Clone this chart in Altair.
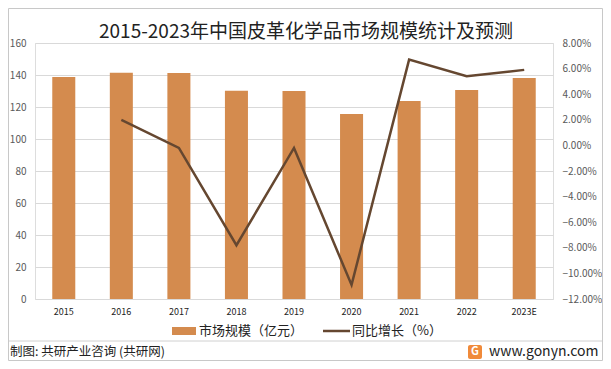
import altair as alt
import pandas as pd

years = ["2015", "2016", "2017", "2018", "2019", "2020", "2021", "2022", "2023E"]
market_size = [138.8, 141.4, 141.2, 130.1, 130.0, 115.6, 123.8, 130.6, 138.1]
growth_pct = [None, 2.0, -0.2, -7.8, -0.2, -10.9, 6.7, 5.4, 5.9]

title_text = "2015-2023年中国皮革化学品市场规模统计及预测"
legend_bar = "市场规模（亿元）"
legend_line = "同比增长（%）"
footer_left = "制图: 共研产业咨询 (共研网)"
footer_right = "www.gonyn.com"

BAR_COLOR = "#D48B4E"
LINE_COLOR = "#654730"
FONT = "Noto Sans CJK SC"

df = pd.DataFrame({"year": years, "size": market_size, "growth": growth_pct})

W, H = 518, 256
PL, PT = 27, 35
OX, OY = 8 + PL, 8 + PT  # page position of plot origin

xenc = alt.X("year:N", sort=years, title=None,
             scale=alt.Scale(paddingInner=0.6, paddingOuter=0.3),
             axis=alt.Axis(labelAngle=0, labelFontSize=9, labelColor="#222222",
                           ticks=False, domain=False, labelPadding=8, labelFont=FONT))

bars = alt.Chart(df).mark_bar(color=BAR_COLOR).encode(
    x=xenc,
    y=alt.Y("size:Q", title=None, scale=alt.Scale(domain=[0, 160], nice=False),
            axis=alt.Axis(values=list(range(0, 161, 20)), orient="left", domain=False, ticks=False,
                          labelFontSize=10, labelColor="#595959", gridColor="#d9d9d9",
                          labelPadding=9, labelFont=FONT)),
)

line = alt.Chart(df).mark_line(color=LINE_COLOR, strokeWidth=2.5).encode(
    x=alt.X("year:N", sort=years),
    y=alt.Y("growth:Q", title=None, scale=alt.Scale(domain=[-12, 8], nice=False),
            axis=alt.Axis(values=list(range(-12, 9, 2)), orient="right", domain=False, ticks=False,
                          grid=False, labelFontSize=10, labelColor="#595959", labelPadding=9,
                          labelExpr="format(datum.value/100, '.2%')", labelFont=FONT)),
)

one = pd.DataFrame({"k": [0]})
base = alt.Chart(one)

title = base.mark_text(align="center", baseline="middle", fontSize=19, font=FONT, color="#222222").encode(
    x=alt.value(306 - OX), y=alt.value(32 - OY), text=alt.value(title_text))

leg_rect = base.mark_rect(color=BAR_COLOR).encode(
    x=alt.value(172 - OX), x2=alt.value(196 - OX), y=alt.value(327 - OY), y2=alt.value(335 - OY))
leg_rect_t = base.mark_text(align="left", baseline="middle", fontSize=13, font=FONT, color="#222222").encode(
    x=alt.value(199 - OX), y=alt.value(331 - OY), text=alt.value(legend_bar))
leg_line = base.mark_rule(color=LINE_COLOR, strokeWidth=2.5).encode(
    x=alt.value(323 - OX), x2=alt.value(350 - OX), y=alt.value(331 - OY))
leg_line_t = base.mark_text(align="left", baseline="middle", fontSize=13, font=FONT, color="#222222").encode(
    x=alt.value(352 - OX), y=alt.value(331 - OY), text=alt.value(legend_line))

sep = base.mark_rule(color="#d0d0d0", strokeWidth=1).encode(
    x=alt.value(8 - OX), x2=alt.value(603 - OX), y=alt.value(341 - OY))
foot_l = base.mark_text(align="left", baseline="middle", fontSize=12.5, font=FONT, color="#222222").encode(
    x=alt.value(10 - OX), y=alt.value(352 - OY), text=alt.value(footer_left))
logo = base.mark_rect(color="#F08A3A", cornerRadius=2).encode(
    x=alt.value(468 - OX), x2=alt.value(482 - OX), y=alt.value(345 - OY), y2=alt.value(359 - OY))
logo_t = base.mark_text(align="center", baseline="middle", fontSize=11, fontWeight="bold", color="white", font=FONT).encode(
    x=alt.value(475 - OX), y=alt.value(352 - OY), text=alt.value("G"))
foot_r = base.mark_text(align="left", baseline="middle", fontSize=14, font=FONT, color="#222222").encode(
    x=alt.value(489 - OX), y=alt.value(352 - OY), text=alt.value(footer_right))
border = base.mark_rect(fill="transparent", stroke="#c8c8c8", strokeWidth=1).encode(
    x=alt.value(8.5 - OX), x2=alt.value(602.5 - OX), y=alt.value(8.5 - OY), y2=alt.value(360.5 - OY))

chart = alt.layer(bars, line, title, leg_rect, leg_rect_t, leg_line, leg_line_t, sep, foot_l,
                  logo, logo_t, foot_r, border).resolve_scale(
    y="independent"
).properties(
    width=W, height=H,
    padding={"left": PL, "top": PT, "right": 595 - PL - W, "bottom": 353 - PT - H},
    autosize=alt.AutoSizeParams(type="none"),
).configure_view(stroke=None).configure(background="white")

chart.save("out.html", embed_options={"renderer": "svg", "actions": False})
